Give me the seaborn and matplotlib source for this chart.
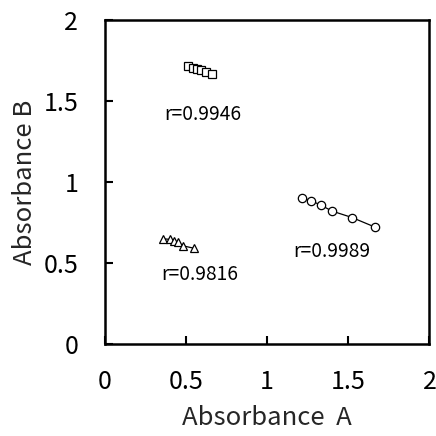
import matplotlib
matplotlib.use("Agg")
import matplotlib.pyplot as plt
import seaborn as sns
import pandas as pd

sq_x = [0.512, 0.543, 0.568, 0.594, 0.625, 0.658]
sq_y = [1.719, 1.704, 1.700, 1.694, 1.680, 1.666]
tri_x = [0.357, 0.402, 0.427, 0.452, 0.483, 0.551]
tri_y = [0.650, 0.646, 0.637, 0.628, 0.606, 0.591]
cir_x = [1.218, 1.269, 1.331, 1.399, 1.523, 1.664]
cir_y = [0.903, 0.885, 0.858, 0.821, 0.781, 0.722]
labels = ["r=0.9946", "r=0.9816", "r=0.9989"]
label_pos = [(0.37, 1.42), (0.35, 0.43), (1.16, 0.57)]

sns.set_theme(style="ticks")
plt.rcParams['font.family'] = ['Noto Sans CJK JP', 'DejaVu Sans']

fig, ax = plt.subplots(figsize=(4.36, 4.36), dpi=100)
fig.subplots_adjust(left=0.240, right=0.985, bottom=0.211, top=0.954)

for xs, ys, m in [(sq_x, sq_y, "s"), (tri_x, tri_y, "^"), (cir_x, cir_y, "o")]:
    df = pd.DataFrame({"x": xs, "y": ys})
    sns.lineplot(data=df, x="x", y="y", ax=ax, color="black", linewidth=0.9,
                 marker=m, markersize=6 if m != "^" else 5.5,
                 markerfacecolor="white", markeredgecolor="black",
                 markeredgewidth=0.9, sort=False)

for t, (x, y) in zip(labels, label_pos):
    ax.text(x, y, t, fontsize=13.8, color="black", va="center", ha="left")

ax.set_xlim(0, 2)
ax.set_ylim(0, 2)
ax.set_xticks([0, 0.5, 1, 1.5, 2])
ax.set_yticks([0, 0.5, 1, 1.5, 2])
ax.set_xticklabels(["0", "0.5", "1", "1.5", "2"])
ax.set_yticklabels(["0", "0.5", "1", "1.5", "2"])
ax.tick_params(direction="in", length=6, width=1.5, labelsize=18, colors="black")
ax.tick_params(axis="x", pad=18)
ax.tick_params(axis="y", pad=19)
for s in ax.spines.values():
    s.set_visible(True)
    s.set_linewidth(1.8)
    s.set_color("black")
ax.set_xlabel("Absorbance  A", fontsize=18.5, labelpad=7)
ax.set_ylabel("Absorbance B", fontsize=18.5, labelpad=4)

fig.savefig("out.png", dpi=100)
